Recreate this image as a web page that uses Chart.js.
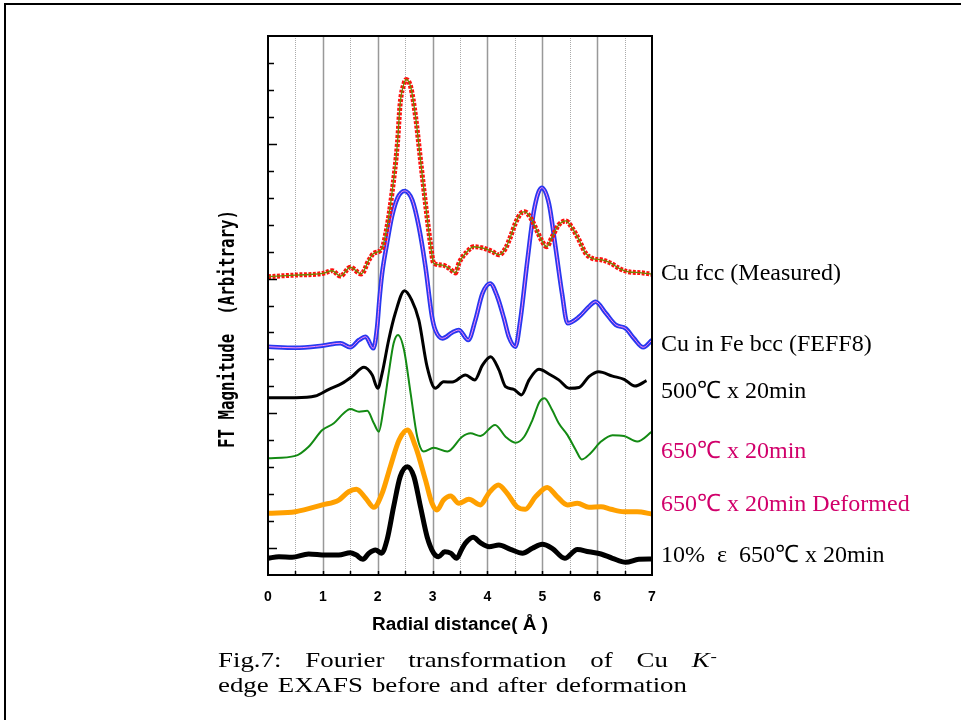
<!DOCTYPE html>
<html>
<head>
<meta charset="utf-8">
<script src="https://cdn.jsdelivr.net/npm/chart.js@4"></script>
<style>
  body { margin: 0; background: #fff; }
</style>
</head>
<body>
<canvas id="myChart" width="961" height="720"></canvas>
<script>
// Radial distance (A) and FT magnitude (arbitrary, stacked offsets)

// Cu fcc (Measured)
var fccR = [0, 0.5, 1.0, 1.17, 1.32, 1.5, 1.7, 1.84, 1.93, 2.07, 2.17, 2.26, 2.36, 2.41, 2.48, 2.52, 2.6, 2.69, 2.78, 2.87, 2.96, 3.02, 3.18, 3.3, 3.42, 3.48, 3.63, 3.75, 3.94, 4.09, 4.21, 4.33, 4.42, 4.51, 4.6, 4.68, 4.79, 4.91, 5.0, 5.08, 5.18, 5.3, 5.43, 5.55, 5.67, 5.79, 5.91, 6.09, 6.25, 6.4, 6.57, 6.78, 7.0];
var fccMag = [11.07, 11.13, 11.19, 11.29, 11.09, 11.42, 11.17, 11.69, 11.94, 12.09, 12.92, 14.17, 16.03, 17.51, 18.24, 18.39, 18.12, 17.01, 15.4, 13.79, 12.31, 11.57, 11.5, 11.38, 11.21, 11.57, 12.0, 12.18, 12.12, 12.0, 11.88, 12.12, 12.55, 13.05, 13.4, 13.48, 13.24, 12.74, 12.37, 12.18, 12.55, 12.99, 13.14, 12.86, 12.43, 11.94, 11.75, 11.69, 11.57, 11.38, 11.25, 11.22, 11.16];

// Cu in Fe bcc (FEFF8)
var bccR = [0, 0.5, 0.99, 1.32, 1.5, 1.66, 1.78, 1.92, 1.99, 2.03, 2.08, 2.17, 2.26, 2.36, 2.49, 2.63, 2.75, 2.87, 2.99, 3.05, 3.18, 3.36, 3.48, 3.65, 3.78, 3.91, 4.05, 4.18, 4.3, 4.39, 4.51, 4.6, 4.73, 4.85, 4.99, 5.12, 5.24, 5.36, 5.46, 5.67, 5.85, 5.97, 6.16, 6.34, 6.52, 6.67, 6.84, 7.0];
var bccMag = [8.47, 8.43, 8.51, 8.6, 8.45, 8.72, 8.84, 8.41, 9.21, 10.2, 11.19, 12.31, 13.3, 13.98, 14.25, 13.91, 12.92, 11.44, 9.58, 9.09, 8.78, 9.0, 9.09, 8.72, 9.46, 10.45, 10.82, 10.33, 9.53, 8.84, 8.47, 9.46, 11.69, 13.54, 14.37, 13.79, 12.18, 10.45, 9.34, 9.58, 9.96, 10.14, 9.71, 9.28, 9.15, 8.78, 8.45, 8.72];

// 500C x 20min
var t500R = [0, 0.5, 0.86, 1.11, 1.35, 1.53, 1.75, 1.9, 2.0, 2.08, 2.2, 2.32, 2.49, 2.62, 2.75, 2.9, 3.05, 3.2, 3.36, 3.6, 3.77, 3.91, 4.06, 4.21, 4.33, 4.48, 4.62, 4.76, 4.94, 5.12, 5.3, 5.49, 5.67, 5.85, 6.03, 6.28, 6.49, 6.69, 6.9];
var t500Mag = [6.58, 6.58, 6.64, 6.89, 7.11, 7.36, 7.71, 7.42, 6.93, 7.48, 8.72, 9.71, 10.55, 10.2, 9.46, 7.73, 6.93, 7.17, 7.16, 7.42, 7.24, 7.79, 8.1, 7.61, 6.99, 6.89, 6.68, 7.24, 7.63, 7.46, 7.24, 6.93, 6.96, 7.36, 7.54, 7.38, 7.26, 7.01, 7.21];

// 650C x 20min
var t650R = [0, 0.5, 0.74, 0.99, 1.2, 1.38, 1.5, 1.66, 1.81, 1.93, 2.02, 2.11, 2.2, 2.29, 2.37, 2.48, 2.6, 2.72, 2.84, 3.02, 3.27, 3.54, 3.69, 3.87, 4.14, 4.33, 4.51, 4.67, 4.82, 4.95, 5.04, 5.18, 5.3, 5.46, 5.61, 5.72, 5.88, 6.07, 6.28, 6.49, 6.73, 7.0];
var t650Mag = [4.33, 4.42, 4.76, 5.38, 5.63, 6.0, 6.16, 6.06, 6.09, 5.63, 5.32, 6.24, 7.48, 8.6, 8.91, 8.35, 6.74, 5.13, 4.58, 4.72, 4.58, 5.13, 5.26, 5.16, 5.57, 5.13, 4.91, 5.13, 5.75, 6.43, 6.56, 6.12, 5.63, 5.19, 4.64, 4.29, 4.52, 4.95, 5.19, 5.16, 4.95, 5.32];

// 650C x 20min Deformed
var defR = [0, 0.5, 0.99, 1.29, 1.47, 1.61, 1.78, 1.93, 2.08, 2.23, 2.39, 2.54, 2.69, 2.87, 2.99, 3.08, 3.2, 3.33, 3.48, 3.66, 3.87, 4.03, 4.2, 4.36, 4.54, 4.69, 4.88, 5.09, 5.27, 5.46, 5.64, 5.85, 6.07, 6.25, 6.49, 6.73, 7.0];
var defMag = [2.29, 2.35, 2.6, 2.78, 3.09, 3.18, 2.85, 2.51, 3.03, 4.02, 5.01, 5.38, 4.76, 3.53, 2.66, 2.41, 2.78, 2.93, 2.66, 2.81, 2.6, 3.05, 3.34, 3.03, 2.53, 2.44, 2.91, 3.25, 2.91, 2.6, 2.66, 2.51, 2.53, 2.44, 2.35, 2.35, 2.26];

// 10% strain 650C x 20min
var epsR = [0, 0.2, 0.44, 0.74, 1.05, 1.29, 1.5, 1.61, 1.73, 1.84, 1.96, 2.07, 2.17, 2.29, 2.41, 2.54, 2.66, 2.78, 2.9, 3.02, 3.11, 3.22, 3.33, 3.44, 3.53, 3.6, 3.74, 3.87, 4.03, 4.21, 4.42, 4.64, 4.82, 5.0, 5.18, 5.41, 5.64, 5.85, 6.07, 6.28, 6.52, 6.76, 7.0];
var epsMag = [0.62, 0.68, 0.66, 0.78, 0.74, 0.74, 0.83, 0.74, 0.58, 0.81, 0.93, 0.81, 1.3, 2.53, 3.65, 4.02, 3.65, 2.53, 1.42, 0.81, 0.68, 0.86, 0.81, 0.62, 0.95, 1.18, 1.4, 1.2, 1.05, 1.11, 0.95, 0.81, 0.99, 1.14, 0.99, 0.62, 0.95, 0.86, 0.78, 0.62, 0.47, 0.58, 0.59];

var xTicks = [0, 1, 2, 3, 4, 5, 6, 7];
var seriesNames = ["Cu fcc (Measured)", "Cu in Fe bcc (FEFF8)", "500\u2103 x 20min", "650\u2103 x 20min", "650\u2103 x 20min Deformed", "10%  \u03b5  650\u2103 x 20min"];

function pts(xs, ys) {
  return xs.map(function (x, i) { return { x: x, y: ys[i] }; });
}

function line(data, color, width, order, dash) {
  return {
    data: data,
    borderColor: color,
    borderWidth: width,
    borderDash: dash || [],
    pointRadius: 0,
    fill: false,
    cubicInterpolationMode: 'monotone',
    order: order
  };
}

// decorations: grid, inward ticks, frame and all the free text
var decor = {
  id: 'decor',
  beforeDatasetsDraw: function (chart) {
    var ctx = chart.ctx, a = chart.chartArea, xs = chart.scales.x;
    ctx.save();
    for (var v = 0.5; v < 7; v += 0.5) {
      var px = Math.round(xs.getPixelForValue(v)) + 0.5;
      ctx.beginPath();
      if (v % 1 === 0) {
        ctx.strokeStyle = '#999'; ctx.lineWidth = 1.5; ctx.setLineDash([]);
      } else {
        ctx.strokeStyle = '#aaa'; ctx.lineWidth = 1; ctx.setLineDash([1, 1]);
      }
      ctx.moveTo(px, a.top);
      ctx.lineTo(px, a.bottom);
      ctx.stroke();
    }
    ctx.restore();
  },
  afterDraw: function (chart) {
    var ctx = chart.ctx, a = chart.chartArea, xs = chart.scales.x, ys = chart.scales.y;
    ctx.save();
    ctx.setLineDash([]);

    // plot frame
    ctx.strokeStyle = '#000';
    ctx.lineWidth = 2;
    ctx.strokeRect(a.left, a.top, a.right - a.left, a.bottom - a.top);

    // inward ticks on the left axis
    ctx.lineWidth = 1.5;
    ys.ticks.forEach(function (t) {
      if (t.value === 0 || t.value === 20) return;
      var py = Math.round(ys.getPixelForValue(t.value)) + 0.5;
      var len = (t.value % 5 === 1) ? 9 : 6;
      ctx.beginPath();
      ctx.moveTo(a.left, py);
      ctx.lineTo(a.left + len, py);
      ctx.stroke();
    });
    // inward ticks on the bottom axis
    for (var v = 0.5; v < 7; v += 0.5) {
      var px = Math.round(xs.getPixelForValue(v)) + 0.5;
      ctx.beginPath();
      ctx.moveTo(px, a.bottom);
      ctx.lineTo(px, a.bottom - 4);
      ctx.stroke();
    }

    // outer figure frame
    ctx.fillStyle = '#000';
    ctx.fillRect(4, 3, 2, 717);
    ctx.fillRect(4, 3, 957, 2);

    function fitText(text, x, y, width) {
      var w = ctx.measureText(text).width;
      ctx.save();
      ctx.translate(x, y);
      ctx.scale(width / w, 1);
      ctx.fillText(text, 0, 0);
      ctx.restore();
    }

    // axis titles
    ctx.fillStyle = '#000';
    ctx.textAlign = 'center';
    ctx.textBaseline = 'middle';
    ctx.font = 'bold 18px "Liberation Sans"';
    fitText('Radial distance( \u00c5 )', (a.left + a.right) / 2, 625, 176);
    ctx.save();
    ctx.translate(229, 329);
    ctx.rotate(-Math.PI / 2);
    ctx.font = 'bold 21px "DejaVu Sans Mono"';
    fitText('FT Magnitude  (Arbitrary)', 0, 0, 238);
    ctx.restore();

    // series names on the right
    var labelAt = [10.95, 8.31, 6.57, 4.34, 2.37, 0.48];
    var labelColors = ['#000', '#000', '#000', '#d1006b', '#d1006b', '#000'];
    ctx.textAlign = 'left';
    ctx.textBaseline = 'alphabetic';
    ctx.font = '24px "Liberation Serif"';
    seriesNames.forEach(function (name, i) {
      ctx.fillStyle = labelColors[i];
      ctx.fillText(name, 661, ys.getPixelForValue(labelAt[i]));
    });

    // caption, justified like the original, glyphs widened like the Century face
    ctx.fillStyle = '#000';
    var serif = '21px "Liberation Serif"';
    var sx = 1.28;
    function justify(items, x0, x1, y) {
      var total = 0;
      items.forEach(function (it) {
        ctx.font = it.font || serif;
        it.w = ctx.measureText(it.text).width * sx;
        total += it.w + (it.glue || 0);
      });
      var gaps = items.filter(function (it) { return !it.glue; }).length - 1;
      var gap = (x1 - x0 - total) / gaps;
      var x = x0;
      items.forEach(function (it, i) {
        ctx.font = it.font || serif;
        ctx.save();
        ctx.translate(x, y + (it.dy || 0));
        ctx.scale(sx, 1);
        ctx.fillText(it.text, 0, 0);
        ctx.restore();
        x += it.w;
        var next = items[i + 1];
        if (next && !next.glue) x += gap;
        if (next && next.glue) x += next.glue;
      });
    }
    justify([
      { text: 'Fig.7:' }, { text: 'Fourier' }, { text: 'transformation' },
      { text: 'of' }, { text: 'Cu' }, { text: 'K', font: 'italic 21px "Liberation Serif"' },
      { text: '-', font: '15px "Liberation Serif"', glue: 1, dy: -6 }
    ], 218, 717, 667);
    justify([
      { text: 'edge' }, { text: 'EXAFS' }, { text: 'before' }, { text: 'and' },
      { text: 'after' }, { text: 'deformation' }
    ], 218, 687, 692);

    ctx.restore();
  }
};

var ctx = document.getElementById("myChart").getContext("2d");

var myChart = new Chart(ctx, {
  type: 'line',
  data: {
    datasets: [
      line(pts(fccR, fccMag), '#6f8a00', 1.3, 0),
      line(pts(fccR, fccMag), '#ff1010', 5, 1, [3, 1.5]),
      line(pts(bccR, bccMag), '#ff8cf0', 1, 2),
      line(pts(bccR, bccMag), '#2838f0', 4.5, 3),
      line(pts(t500R, t500Mag), '#000000', 3, 4),
      line(pts(t650R, t650Mag), '#138a13', 2, 5),
      line(pts(defR, defMag), '#ffa000', 5, 6),
      line(pts(epsR, epsMag), '#000000', 5, 7)
    ]
  },
  options: {
    responsive: false,
    animation: false,
    layout: { padding: { left: 268, right: 309, top: 36, bottom: 0 } },
    plugins: { legend: { display: false }, tooltip: { enabled: false } },
    scales: {
      x: {
        type: 'linear',
        min: 0,
        max: 7,
        afterBuildTicks: function (scale) {
          scale.ticks = xTicks.map(function (v) { return { value: v }; });
        },
        ticks: {
          color: '#000',
          padding: 14,
          maxRotation: 0,
          font: { family: 'Liberation Sans', weight: 'bold', size: 14 }
        },
        grid: { display: false, drawTicks: false },
        border: { display: false },
        afterFit: function (scale) { scale.height = 145; }
      },
      y: {
        min: 0,
        max: 20,
        ticks: { stepSize: 1, display: false },
        grid: { display: false, drawTicks: false },
        border: { display: false },
        afterFit: function (scale) { scale.width = 0; }
      }
    }
  },
  plugins: [decor]
});
</script>
</body>
</html>
